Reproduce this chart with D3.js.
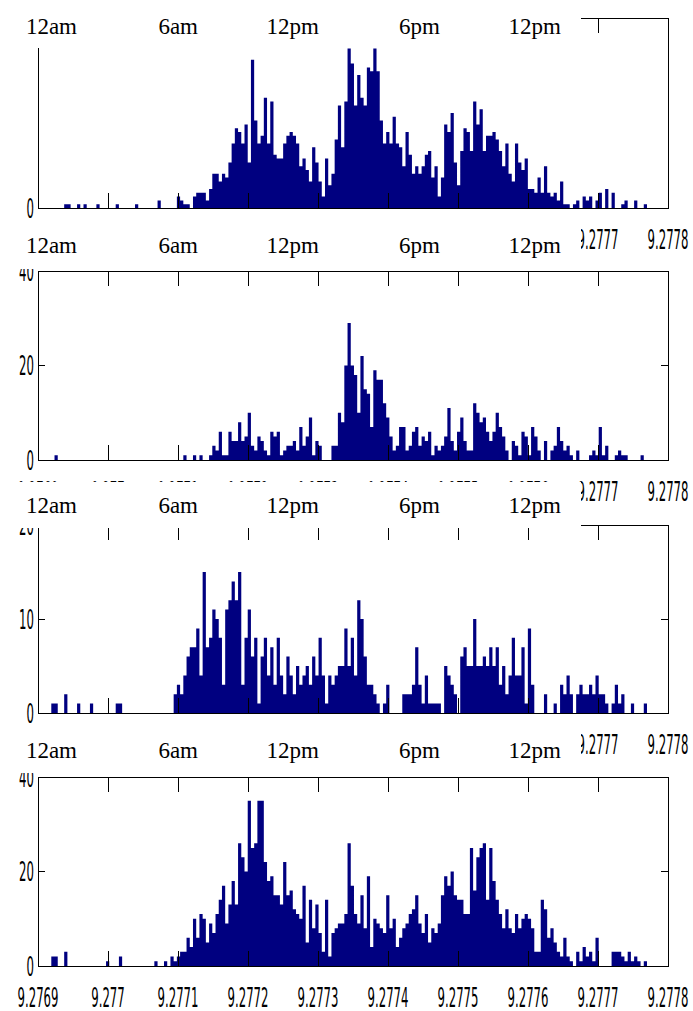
<!DOCTYPE html>
<html>
<head>
<meta charset="utf-8">
<script src="https://cdn.jsdelivr.net/npm/d3@7"></script>
<style>
  html, body { margin: 0; padding: 0; background: #fff; }
</style>
</head>
<body>
<div id="chart"></div>
<script>
/*
	Four stacked histograms sharing the same bins, with a time strip over each one.
*/

var xTicks = [9.2769, 9.2770, 9.2771, 9.2772, 9.2773, 9.2774, 9.2775, 9.2776, 9.2777, 9.2778];
var xTickLabels = ['9.2769', '9.277', '9.2771', '9.2772', '9.2773', '9.2774', '9.2775', '9.2776', '9.2777', '9.2778'];

var timeHours = [0, 6, 12, 18, 24];
var timeLabels = ['12am', '6am', '12pm', '6pm', '12pm'];

// bin edges of the histograms
var binLo = 9.276919;
var binHi = 9.277770;

var counts1 = [
	0,0,0,0,1,1,0,0,1,0, 1,0,0,0,1,0,0,0,0,0, 1,0,0,0,0,0,1,0,0,0, 0,0,0,2,0,0,0,0,0,3, 2,1,1,0,
	3,4,4,4,2,5,9,9,7,9, 8,12,17,21,20,17,22,12,39,23, 17,19,29,17,28,14,13,13,17,19, 20,19,17,11,13,10,7,16,12,7, 3,13,6,9,18,27,16,28,42,38,
	27,35,29,27,37,36,42,36, 23,17,20,17,24,17,16,11, 20,14,9,11,9,11,14,15, 8,11,3,8,22,20,25,
	12,6,15,21,20,15,28,22, 26,15,19,19,20,18,15,11, 17,9,7,17,12,10,13, 5,5,4,8,4,11,4,3, 4,2,7,
	1,1,0,1,2,0,3,2,3,0,2,4,0,5,0,4,0,0,1,2,0,0,2,0,0,1
];

var counts2 = [
	0,1,0,0,0,0,0,0,0,0, 0,0,0,0,0,0,0,0,0,0, 0,0,0,0,0,0,0,0,0,0, 0,0,0,0,0,0,0,0,0,0, 0,1,0,0,1,0,1,0,0,1,
	3,2,6,1,1,6,4,4,8,4, 5,10,3,2,5,4,2,1,6,5, 6,1,2,3,3,4,2,7,3,5, 9,1,4,3,0,0,0,3,3,10, 8,20,29,
	20,18,10,22,15,14,7, 19,17,17,12,9,5,2,3,7, 7,2,3,6,7,3,5,4,6, 1,3,2,3,5,11,4,2,6,9,
	4,2,2,12,10,8,9,6,4, 6,10,7,5,2,0,4,3,1, 6,5,1,7,5,2,0,4,0, 2,3,7,4,2,3,1,0,2,
	0,0,0,1,2,1,7,1,3,0, 0,1,2,1,1,0,0,0,0,1, 0
];

var counts3 = [
	1,1,0,0,2,0,0,0,1,0, 0,0,1,0,0,0,0,0,0,0, 1,1,0,0,0,0,0,0,0,0, 0,0,0,0,0,0,0,0,
	2,3,2,4,6,7,7,9,4,15, 7,8,11,10,8,3,11,12,14,12, 15,3,8,11,6,8,1,6,8,4, 7,3,8,4,2,6,4,2,5,3, 4,5,3,6,4,8,4,1,4,3, 4,5,
	5,9,5,8,4,12,10,6,3,3, 2,1,0,1,3,0,0,0,0,2, 2,2,3,7,3,1,4,1,1,1, 1,0,5,4,3,2,0,6,7,5,
	5,10,5,5,6,5,7,5,7,3, 5,2,4,8,4,4,7,1,9,3, 0,0,0,2,0,0,1,0,3,2, 4,2,0,2,3,2,2,3,2,4,
	2,2,1,0,1,3,1,2,0,0, 1,0,0,0,1
];

var counts4 = [
	2,2,0,0,3,0,0,0,0,0, 0,0,0,0,0,0,0,1,0,0, 0,2,0,0,0,0,0,0,0,0, 0,0,1,0,0,1,0,2,1,2, 3,3,6,4,
	10,6,11,10,5,9,7,11,14,17, 9,13,18,13,26,23,20,35,25,26, 35,35,22,18,19,15,15,13,22,15, 16,12,11,10,17,5,14,8,13,7, 3,14,2,7,8,9,
	9,11,26,17,11,9,15,8,19,4, 10,9,8,7,15,8,10,4,6,8, 9,11,12,15,9,7,11,5,8,7, 9,15,19,17,20,15,14,14,11,11,
	25,16,23,25,26,14,25,18,14,11, 8,12,8,7,11,8,10,11,10,8, 3,3,14,12,6,8,5,3,2,6, 2,1,0,3,1,4,2,3,1,6,
	0,0,0,0,3,3,3,2,1,3, 1,2,1,0,1
];

var yMax = [50, 40, 20, 40];
var yTicks = [[0], [0, 20, 40], [0, 10, 20], [0, 20, 40]];

var series = [counts1, counts2, counts3, counts4];

var width = 693;
var height = 1011;

var barColor = '#000080';
var numFont = '"DejaVu Sans", Arial, sans-serif';
var timeFont = '"Liberation Serif", "Times New Roman", serif';

// panel boxes and the white strips laid over them
var panels = [
	{top: 18, bottom: 208, strip: [0, 48], base: 34},
	{top: 271, bottom: 460, strip: [220, 269], base: 253},
	{top: 525, bottom: 713, strip: [482, 528], base: 513},
	{top: 777, bottom: 966, strip: [724, 773], base: 758}
];

var left = 38;
var right = 668;
var stripRight = 581;
var xTickLen = 15;
var yTickLen = 7;

var x = d3.scaleLinear()
	.domain([xTicks[0], xTicks[xTicks.length - 1]])
	.range([left, right]);

var tx = d3.scaleLinear()
	.domain([0, 24])
	.range([77, 561]);

var svg = d3.select('#chart').append('svg')
	.attr('width', width)
	.attr('height', height)
	.style('display', 'block');

svg.append('rect')
	.attr('width', width)
	.attr('height', height)
	.attr('fill', '#fff');

function numText(g, px, py, anchor, label) {
	g.append('text')
		.attr('transform', 'translate(' + px + ',' + py + ') scale(0.45,1)')
		.attr('text-anchor', anchor)
		.style('font-family', numFont)
		.style('font-size', '26px')
		.attr('fill', '#000')
		.text(label);
}

series.forEach(function(counts, p) {
	var box = panels[p];
	var n = counts.length;
	var step = (binHi - binLo) / n;

	var y = d3.scaleLinear()
		.domain([0, yMax[p]])
		.range([box.bottom, box.top]);

	var g = svg.append('g').attr('class', 'panel');

	// one step outline per histogram, so neighbouring bins leave no seams
	var pts = counts.map(function(c, i) { return [binLo + i * step, c]; });
	pts.push([binHi, 0]);

	var area = d3.area()
		.curve(d3.curveStepAfter)
		.x(function(d) { return x(d[0]); })
		.y0(y(0))
		.y1(function(d) { return y(d[1]); });

	g.append('path')
		.attr('class', 'bars')
		.attr('d', area(pts))
		.attr('fill', barColor);

	var lines = g.append('g')
		.attr('stroke', '#000')
		.attr('stroke-width', 1)
		.attr('shape-rendering', 'crispEdges');

	lines.append('rect')
		.attr('x', left)
		.attr('y', box.top)
		.attr('width', right - left)
		.attr('height', box.bottom - box.top)
		.attr('fill', 'none');

	xTicks.forEach(function(v) {
		lines.append('line')
			.attr('x1', x(v)).attr('x2', x(v))
			.attr('y1', box.bottom).attr('y2', box.bottom - xTickLen);
		lines.append('line')
			.attr('x1', x(v)).attr('x2', x(v))
			.attr('y1', box.top).attr('y2', box.top + xTickLen);
	});

	yTicks[p].forEach(function(v) {
		lines.append('line')
			.attr('x1', left).attr('x2', left + yTickLen)
			.attr('y1', y(v)).attr('y2', y(v));
		lines.append('line')
			.attr('x1', right).attr('x2', right - yTickLen)
			.attr('y1', y(v)).attr('y2', y(v));
		numText(g, left - 4, y(v) + 9.5, 'end', String(v));
	});

	xTicks.forEach(function(v, i) {
		numText(g, x(v), box.bottom + 41, 'middle', xTickLabels[i]);
	});
});

// white time strips, drawn last so they hide what sits under them
panels.forEach(function(box) {
	var s = svg.append('g').attr('class', 'strip');
	s.append('rect')
		.attr('x', 0)
		.attr('y', box.strip[0])
		.attr('width', stripRight)
		.attr('height', box.strip[1] - box.strip[0])
		.attr('fill', '#fff');
	s.selectAll('text')
		.data(timeHours)
		.enter().append('text')
		.attr('x', function(h) { return tx(h); })
		.attr('y', box.base)
		.attr('text-anchor', 'end')
		.style('font-family', timeFont)
		.style('font-size', '23px')
		.attr('fill', '#000')
		.text(function(h, i) { return timeLabels[i]; });
});
</script>
</body>
</html>
